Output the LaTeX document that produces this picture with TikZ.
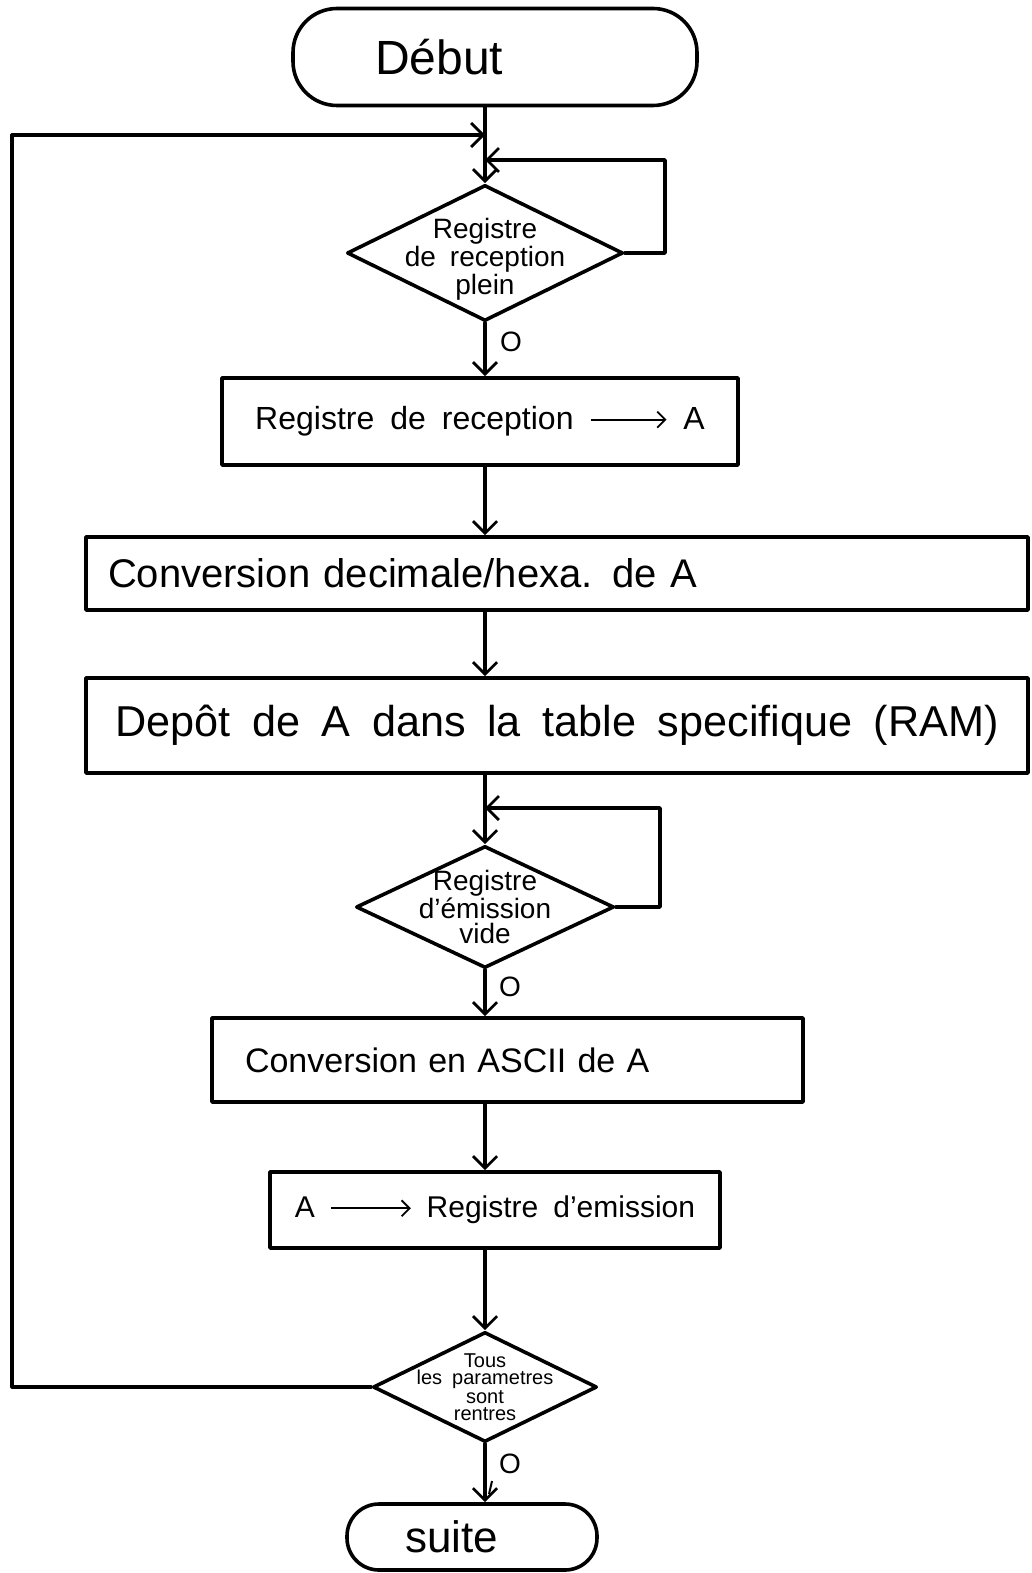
\documentclass[tikz,border=0pt]{standalone}
\usepackage{fontspec}
\setmainfont[WordSpace=1.8]{Liberation Sans}
\usetikzlibrary{shapes.geometric,arrows.meta}
% long arrow used inside the texts
\newcommand\handarrow[1]{\tikz[baseline=-0.6ex,x=1pt,y=1pt]\draw[line width=0.9pt,-{Straight Barb[length=4pt,width=8pt,line width=0.9pt]}] (0,0) -- (#1,0);}
\begin{document}
\begin{tikzpicture}[x=0.5pt,y=-0.5pt,
  every node/.style={font=\fontsize{16}{19}\selectfont},
  ln/.style={line width=1.8pt, line cap=round, line join=round},
  terminal/.style={ln, draw, rectangle, inner ysep=0pt},
  proc/.style={ln, draw, rectangle, inner ysep=0pt},
  decision/.style={ln, draw, diamond, inner sep=0pt},
  flow/.style={ln, -{Straight Barb[length=6pt,width=12pt,line width=1.4pt]}},
  back/.style={flow, line width=1.6pt},
  yes/.style={font=\fontsize{14}{14}\selectfont}
]
\useasboundingbox (0,0) rectangle (1032,1573);

% column of the main flow
\coordinate (colx) at (485,0);

% nodes
\node[terminal, rounded corners=22pt, minimum width=202pt, minimum height=48.5pt,
      text width=120pt, inner xsep=41pt, align=left,
      font=\fontsize{24}{24}\selectfont] (debut) at (495,57) {Début};

\node[decision, minimum width=138pt, minimum height=68pt,
      label={[align=center, yshift=-3pt, font=\fontsize{14}{13}\selectfont]center:Registre\\de reception\\plein}]
      (d1) at (485,253) {};

\node[proc, minimum width=258pt, minimum height=43.5pt] (b1) at (480,421.5)
      {Registre de reception \handarrow{38} A};

\node[proc, minimum width=471pt, minimum height=36.5pt, text width=449pt,
      inner xsep=11pt, align=left, font=\fontsize{20}{20}\selectfont]
      (b2) at (557,573.5) {Conversion decimale/hexa. de A};

\node[proc, minimum width=471pt, minimum height=47.5pt,
      font=\fontsize{21.6}{21.6}\selectfont]
      (b3) at (557,725.5) {Depôt de A dans la table specifique (RAM)};

\node[decision, minimum width=129pt, minimum height=61pt,
      label={[align=center, font=\fontsize{14}{12.5}\selectfont]center:Registre\\d'émission\\vide}]
      (d2) at (485,907) {};

\node[proc, minimum width=295.5pt, minimum height=42pt, text width=262.5pt,
      inner xsep=16.5pt, align=left, font=\fontsize{17}{17}\selectfont]
      (b4) at (507.5,1060) {Conversion en ASCII de A};

\node[proc, minimum width=225pt, minimum height=38pt,
      font=\fontsize{15}{15}\selectfont]
      (b5) at (495,1210) {A \handarrow{40} Registre d'emission};

\node[decision, minimum width=112pt, minimum height=55pt,
      label={[align=center, font=\fontsize{10}{8.5}\selectfont]center:Tous\\les parametres\\sont\\rentres}]
      (d3) at (485,1387) {};

\node[terminal, rounded corners=16pt, minimum width=125pt, minimum height=33pt,
      text width=67pt, inner xsep=29pt, align=left,
      font=\fontsize{22}{22}\selectfont] (suite) at (472,1537) {suite};

% corners of the loops
\coordinate (lp) at (12,135);
\coordinate (r1) at (665,160);
\coordinate (r2) at (660,808);

% main flow
\draw[flow] (colx |- debut.south) -- (d1.north);
\draw[flow] (d1.south) -- (d1.south |- b1.north);
\draw[flow] (colx |- b1.south) -- (colx |- b2.north);
\draw[flow] (colx |- b2.south) -- (colx |- b3.north);
\draw[flow] (colx |- b3.south) -- (d2.north);
\draw[flow] (d2.south) -- (colx |- b4.north);
\draw[flow] (colx |- b4.south) -- (colx |- b5.north);
\draw[flow] (colx |- b5.south) -- (d3.north);
\draw[flow] (d3.south) -- (colx |- suite.north);

% waiting loops
\draw[flow] (d1.east) -| (r1) -- (colx |- r1);
\draw[flow] (d2.east) -| (r2) -- (colx |- r2);

% return to the start
\draw[back] (d3.west) -| (lp) -- (colx |- lp);

% "oui" marks
\node[yes] (o1) at (511,342) {O};
\node[yes] (o2) at (510,987) {O};
\node[yes] (o3) at (510,1464) {O};
\draw[line width=1pt] (489,1494) -- (o3.south west);

\end{tikzpicture}
\end{document}
